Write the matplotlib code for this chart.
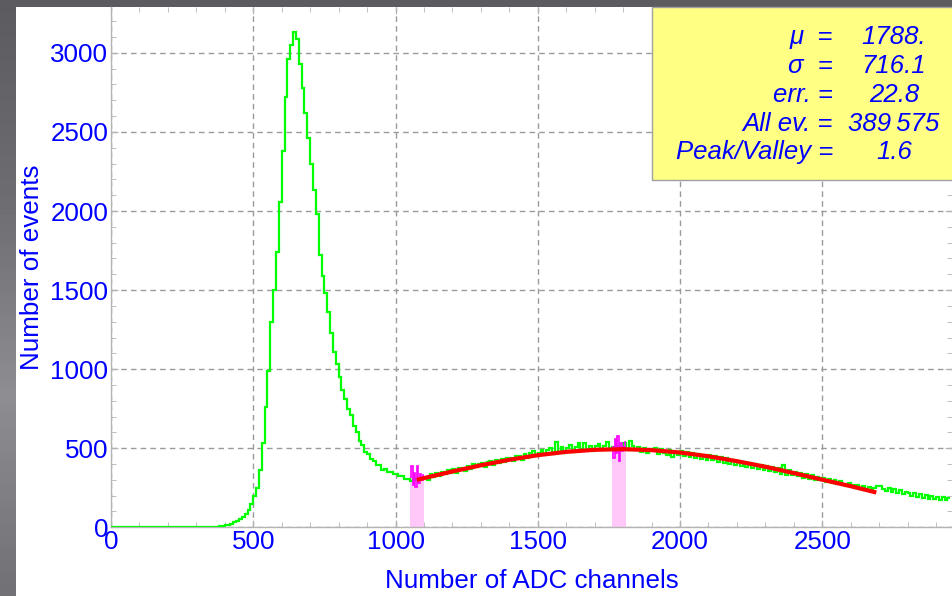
import numpy as np
import matplotlib.pyplot as plt
from matplotlib.patches import Rectangle
from matplotlib.colors import LinearSegmentedColormap
from matplotlib.ticker import MultipleLocator

plt.rcParams['font.family'] = ['Liberation Sans', 'DejaVu Sans']

# ADC spectrum, 10-channel bins starting at 0
bin_width = 10
counts = [
    0, 0, 0, 0, 0, 0, 0, 0, 0, 0,
    0, 0, 0, 0, 0, 0, 0, 0, 0, 0,
    0, 0, 0, 0, 0, 1, 0, 0, 1, 0,
    1, 1, 2, 2, 3, 3, 4, 5, 6, 8,
    12, 17, 24, 32, 42, 52, 64, 82, 110, 150,
    195, 250, 360, 530, 760, 990, 1300, 1500, 1740, 2060,
    2380, 2720, 2960, 3050, 3135, 3090, 2930, 2780, 2620, 2460,
    2300, 2130, 1980, 1720, 1590, 1480, 1360, 1230, 1110, 1030,
    950, 870, 810, 750, 710, 640, 600, 545, 520, 475,
    465, 435, 418, 395, 392, 365, 368, 350, 350, 335,
    340, 322, 322, 305, 308, 295, 310, 300, 296, 312,
    318, 296, 334, 318, 342, 322, 350, 334, 360, 344,
    366, 346, 374, 378, 356, 388, 370, 398, 380, 402,
    404, 382, 412, 418, 396, 426, 406, 434, 412, 440,
    438, 418, 450, 452, 428, 462, 440, 468, 482, 448,
    470, 488, 462, 490, 500, 466, 540, 478, 506, 472,
    500, 518, 476, 508, 530, 486, 534, 490, 516, 482,
    512, 528, 488, 516, 540, 492, 505, 495, 515, 490,
    530, 490, 545, 512, 486, 510, 478, 504, 470, 498,
    490, 500, 462, 494, 468, 456, 486, 446, 478, 458,
    480, 450, 474, 442, 468, 436, 462, 430, 456, 426,
    458, 424, 448, 416, 442, 408, 436, 402, 428, 396,
    422, 390, 416, 384, 408, 378, 400, 370, 394, 362,
    386, 354, 382, 348, 376, 340, 392, 332, 360, 328,
    350, 322, 346, 314, 338, 308, 330, 300, 320, 296,
    312, 288, 308, 282, 300, 274, 292, 268, 260, 278,
    270, 252, 268, 244, 262, 240, 256, 234, 250, 260,
    262, 240, 230, 246, 222, 240, 216, 234, 208, 226,
    214, 198, 218, 192, 210, 188, 206, 182, 198, 178,
    194, 174, 190, 170, 184,
]

# fit windows (5-channel bins)
win1_start = 1050
win1 = [320, 385, 265, 345, 255, 390, 280, 340, 300, 330]
win2_start = 1760
win2 = [510, 440, 560, 470, 575, 420, 530, 480, 505, 540]
win_bin = 5

# gaussian fit line
fit_x = [1075, 1100, 1200, 1300, 1400, 1500, 1600, 1700, 1800,
         1900, 2000, 2100, 2200, 2300, 2400, 2500, 2600, 2690]
fit_y = [300, 311, 353, 392, 427, 456, 477, 490, 494,
         488, 473, 449, 418, 383, 343, 301, 260, 220]

stat_names = ['\u03bc  =', '\u03c3  =', 'err. =', 'All ev. =', 'Peak/Valley =']
stat_values = ['1788.', '716.1', '22.8', '389\u2009575', '1.6']

W, H = 952, 596
fig = plt.figure(figsize=(W / 100, H / 100), dpi=100)

# grey frame behind the white panel
bg = fig.add_axes([0, 0, 1, 1], zorder=-20)
bg.set_axis_off()
frame_cmap = LinearSegmentedColormap.from_list(
    'frame', ['#5c5c60', '#6e6e72', '#8e8e92', '#727276'])
bg.imshow(np.linspace(0, 1, 100).reshape(-1, 1), cmap=frame_cmap, aspect='auto',
          extent=(0, 1, 0, 1), origin='upper')
bg.add_patch(Rectangle((16 / W, 0), 1, 1 - 7 / H, transform=bg.transAxes,
                       facecolor='white', edgecolor='none'))

ax = fig.add_axes([111 / W, 1 - 527.3 / H, 841 / W, 520.3 / H])
ax.patch.set_alpha(0)

edges = np.arange(len(counts) + 1) * bin_width
ax.stairs(counts, edges, baseline=None, color='#00ff00', lw=1.6, zorder=3)

for start, vals in [(win1_start, win1), (win2_start, win2)]:
    e = start + np.arange(len(vals) + 1) * win_bin
    ax.stairs(vals, e, baseline=0, fill=True, color='#ffc8f8', zorder=2.5)
    ax.stairs(vals, e, baseline=None, color='#ff00ff', lw=1.2, zorder=3.5)

ax.plot(fit_x, fit_y, color='#ff0000', lw=3, solid_capstyle='butt', zorder=4)

ax.set_xlim(0, 2956)
ax.set_ylim(0, 3290)
ax.xaxis.set_major_locator(MultipleLocator(500))
ax.xaxis.set_minor_locator(MultipleLocator(100))
ax.yaxis.set_major_locator(MultipleLocator(500))
ax.yaxis.set_minor_locator(MultipleLocator(100))

ax.grid(True, which='major', color='#9a9a9a', ls=(0, (4, 3)), lw=1)
ax.set_axisbelow(True)
for s in ['top', 'right']:
    ax.spines[s].set_visible(False)
for s in ['left', 'bottom']:
    ax.spines[s].set_color('#b4b4b4')
    ax.spines[s].set_linewidth(1)

ax.tick_params(which='both', direction='in', color='#b4b4b4', top=True, right=True,
               labelcolor='#0000ff', labelsize=18.7)
ax.tick_params(which='major', length=5, pad=2)
ax.tick_params(which='minor', length=3.5)

ax.set_xlabel('Number of ADC channels', color='#0000ff', fontsize=18.7, labelpad=11)
ax.set_ylabel('Number of events', color='#0000ff', fontsize=18.7, labelpad=4.5)

# stats box
fig.patches.append(Rectangle((652 / W, 1 - 180 / H), 0.4, 173 / H, transform=fig.transFigure,
                             facecolor='#ffff84', edgecolor='#a0a0a0', lw=1, zorder=5))
baselines = [44, 73, 101.7, 130.7, 159.3]
for name, val, yb in zip(stat_names, stat_values, baselines):
    fig.text(833 / W, 1 - yb / H, name, ha='right', va='baseline', style='italic',
             color='#0000ff', fontsize=18.5, zorder=6)
    fig.text(894 / W, 1 - yb / H, val, ha='center', va='baseline', style='italic',
             color='#0000ff', fontsize=18.5, zorder=6)

fig.savefig('out.png', dpi=100)
